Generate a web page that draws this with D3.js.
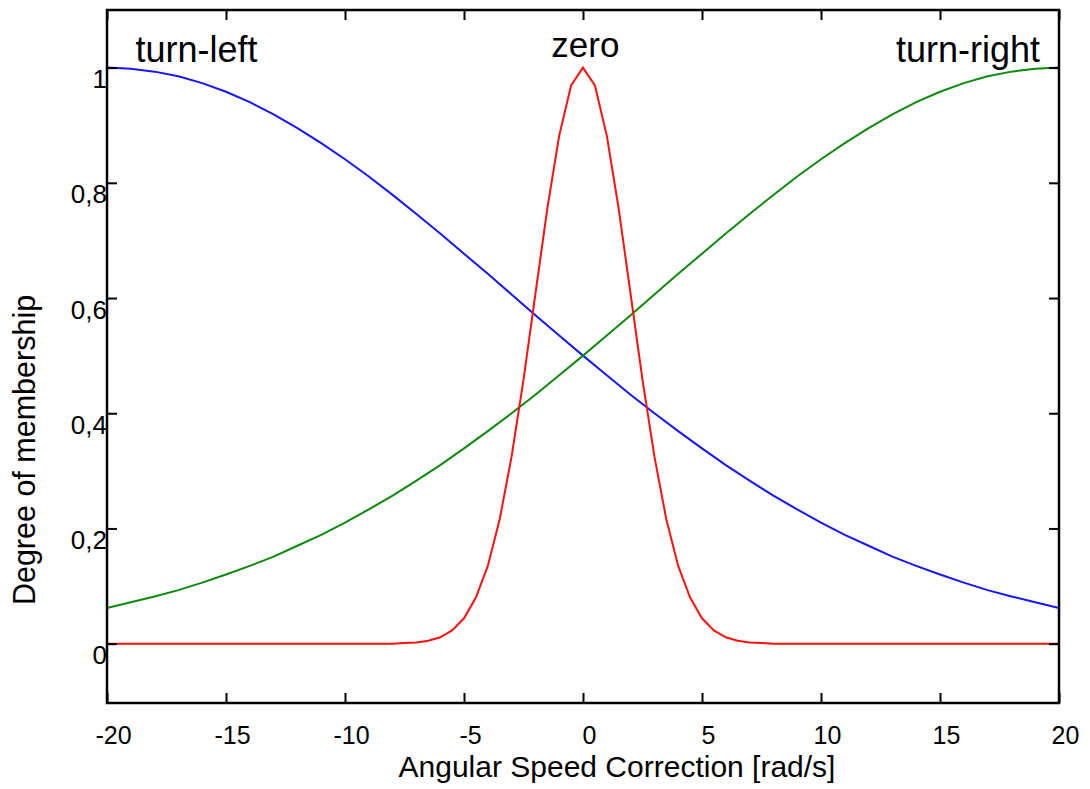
<!DOCTYPE html>
<html>
<head>
<meta charset="utf-8">
<script src="https://cdn.jsdelivr.net/npm/d3@7"></script>
<style>
  body { margin: 0; background: #fff; }
  svg { display: block; font-family: "Liberation Sans", Arial, Helvetica, sans-serif; }
</style>
</head>
<body>
<svg id="chart" width="1090" height="789"></svg>
<script>
// x positions of the sampled membership curves (rad/s)
const xs = [-20,-19,-18,-17,-16,-15,-14,-13,-12,-11,-10,-9,-8,-7,-6,-5,-4,-3,-2,-1,0,
            1,2,3,4,5,6,7,8,9,10,11,12,13,14,15,16,17,18,19,20];
// turn-left (blue)
const turnLeft = [1.000,0.998,0.993,0.985,0.973,0.958,0.940,0.919,0.895,0.869,0.841,
                  0.811,0.779,0.746,0.712,0.677,0.642,0.606,0.570,0.535,0.500,
                  0.466,0.432,0.400,0.369,0.339,0.310,0.283,0.257,0.233,0.210,
                  0.189,0.170,0.151,0.135,0.120,0.106,0.093,0.082,0.072,0.062];
// turn-right (green)
const turnRight = [0.062,0.072,0.082,0.093,0.106,0.120,0.135,0.151,0.170,0.189,0.210,
                   0.233,0.257,0.283,0.310,0.339,0.369,0.400,0.432,0.466,0.500,
                   0.535,0.570,0.606,0.642,0.677,0.712,0.746,0.779,0.811,0.841,
                   0.869,0.895,0.919,0.940,0.958,0.973,0.985,0.993,0.998,1.000];
// zero (red)
const zeroX = [-20,-8,-7.5,-7,-6.5,-6,-5.5,-5,-4.5,-4,-3.5,-3,-2.5,-2,-1.5,-1,-0.5,0,
               0.5,1,1.5,2,2.5,3,3.5,4,4.5,5,5.5,6,6.5,7,7.5,8,20];
const zeroY = [0,0,0.001,0.002,0.005,0.011,0.023,0.044,0.080,0.135,0.216,0.325,0.458,0.607,0.755,0.882,0.969,1.000,
               0.969,0.882,0.755,0.607,0.458,0.325,0.216,0.135,0.080,0.044,0.023,0.011,0.005,0.002,0.001,0,0];

const xTicks = [-20,-15,-10,-5,0,5,10,15,20];
const yTicks = [0,0.2,0.4,0.6,0.8,1];
const yTickLabels = ["0","0,2","0,4","0,6","0,8","1"];

const labels = [
  {text: "turn-left", x: -18.8, anchor: "start"},
  {text: "zero", x: 0.1, anchor: "middle"},
  {text: "turn-right", x: 19.2, anchor: "end"}
];

const margin = {top: 10, right: 31, bottom: 86, left: 107};
const width = 1090 - margin.left - margin.right;
const height = 789 - margin.top - margin.bottom;

const svg = d3.select("#chart");
const g = svg.append("g").attr("transform", `translate(${margin.left},${margin.top})`);

const x = d3.scaleLinear().domain([-20, 20]).range([0, width]);
const y = d3.scaleLinear().domain([-0.103, 1.1]).range([height, 0]);

// curves
const line = d3.line().x(d => x(d[0])).y(d => y(d[1]));
const series = [
  {pts: d3.zip(xs, turnLeft), color: "#1515ff"},
  {pts: d3.zip(xs, turnRight), color: "#0c8a0c"},
  {pts: d3.zip(zeroX, zeroY), color: "#ff1010"}
];
g.selectAll(".curve")
  .data(series)
  .enter().append("path")
    .attr("class", "curve")
    .attr("d", d => line(d.pts))
    .attr("fill", "none")
    .attr("stroke", d => d.color)
    .attr("stroke-width", 2);

// axes, ticks pointing inwards
const fmtY = d => yTickLabels[yTicks.indexOf(d)];
const bottom = g.append("g").attr("transform", `translate(0,${height})`)
  .call(d3.axisBottom(x).tickValues(xTicks).tickSize(-10).tickFormat(d => String(d)));
bottom.selectAll("text").attr("y", 41).attr("dy", 0).attr("x", 6)
  .style("font-size", "25px").attr("fill", "#000");

const left = g.append("g")
  .call(d3.axisLeft(y).tickValues(yTicks).tickSize(-10).tickFormat(fmtY));
left.selectAll("text").attr("x", 0).attr("dy", 0).attr("y", 20)
  .style("font-size", "26px").attr("fill", "#000");

g.append("g").call(d3.axisTop(x).tickValues(xTicks).tickSize(-10).tickFormat(""));
g.append("g").attr("transform", `translate(${width},0)`)
  .call(d3.axisRight(y).tickValues(yTicks).tickSize(-10).tickFormat(""));

g.selectAll(".domain").remove();
g.selectAll(".tick line").attr("stroke", "#000").attr("stroke-width", 2);

g.append("rect")
  .attr("width", width).attr("height", height)
  .attr("fill", "none").attr("stroke", "#000").attr("stroke-width", 2.5);

// curve labels
g.selectAll(".lbl")
  .data(labels)
  .enter().append("text")
    .attr("x", d => x(d.x))
    .attr("y", (d, i) => i === 1 ? 47 : 52)
    .attr("text-anchor", d => d.anchor)
    .style("font-size", (d, i) => i === 1 ? "35px" : "36px")
    .text(d => d.text);

// axis titles
svg.append("text")
  .attr("x", 617)
  .attr("y", 777)
  .attr("text-anchor", "middle")
  .style("font-size", "30px")
  .text("Angular Speed Correction [rad/s]");

svg.append("text")
  .attr("transform", "translate(35,450) rotate(-90)")
  .attr("text-anchor", "middle")
  .style("font-size", "30.5px")
  .text("Degree of membership");
</script>
</body>
</html>
